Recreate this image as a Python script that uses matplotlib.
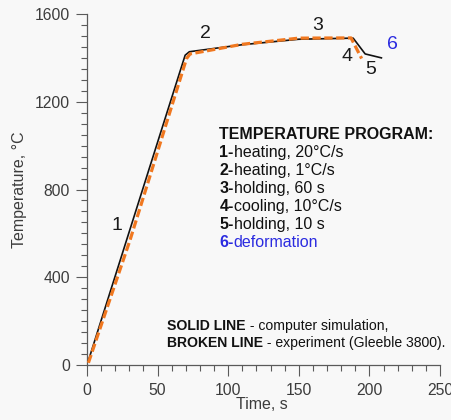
import matplotlib
matplotlib.use("Agg")
import matplotlib.pyplot as plt
from matplotlib.ticker import MultipleLocator

plt.rcParams['font.family'] = ['Liberation Sans', 'DejaVu Sans']

# Thermal cycle: computer simulation (solid) and Gleeble 3800 experiment (broken)
sim_time = [1, 69.5, 72.5, 110, 150, 188.5, 197, 208.5]
sim_temp = [20, 1412, 1428, 1460, 1485, 1490, 1418, 1400]

exp_time = [1, 30.5, 70.5, 73, 110, 150, 187, 194.5]
exp_temp = [10, 570, 1397, 1418, 1462, 1490, 1491, 1397]

# Stage numbers placed along the curve
stage_labels = ["1", "2", "3", "4", "5", "6"]
stage_x = [20.9, 83.6, 163.2, 183.8, 201.1, 216.0]
stage_y = [636, 1511, 1547, 1404, 1345, 1459]
stage_colors = ["#1a1a1a"] * 5 + ["#2b2be0"]

# Temperature program legend: (bold prefix, rest, colour)
program_prefix = ["1-", "2-", "3-", "4-", "5-", "6-"]
program_text = ["heating, 20°C/s", "heating, 1°C/s", "holding, 60 s",
                "cooling, 10°C/s", "holding, 10 s", "deformation"]
program_colors = ["#111111"] * 5 + ["#2b2be0"]

x_ticks = [0, 50, 100, 150, 200, 250]
y_ticks = [0, 400, 800, 1200, 1600]

fig = plt.figure(figsize=(4.51, 4.20), dpi=100, facecolor="#f8f8f8")
ax = fig.add_axes([87 / 451, 1 - 365 / 420, 353 / 451, 351 / 420])
ax.set_facecolor("none")

ax.plot(sim_time, sim_temp, color="#111111", lw=1.2, zorder=3)
ax.plot(exp_time, exp_temp, color="#f07820", lw=2.3, dashes=(2.6, 1.1),
        zorder=4)

ax.set_xlim(0, 250)
ax.set_ylim(0, 1600)
ax.set_xticks(x_ticks)
ax.set_yticks(y_ticks)
ax.xaxis.set_minor_locator(MultipleLocator(10))
ax.yaxis.set_minor_locator(MultipleLocator(50))

for side in ("top", "right"):
    ax.spines[side].set_visible(False)
for side in ("left", "bottom"):
    ax.spines[side].set_color("#5a5a5a")
    ax.spines[side].set_linewidth(0.9)

ax.tick_params(which="both", direction="out", color="#5a5a5a", width=0.8,
               labelcolor="#3c3c3c", labelsize=11.3)
ax.tick_params(which="major", length=8)
ax.tick_params(which="minor", length=4.5)
ax.tick_params(axis="y", which="major", pad=4.3)
ax.tick_params(axis="x", which="major", pad=5)

ax.set_xlabel("Time, s", fontsize=11.5, color="#3c3c3c")
ax.set_ylabel("Temperature, °C", fontsize=11.5, color="#3c3c3c")
ax.xaxis.set_label_coords(0.496, -0.091)
ax.yaxis.set_label_coords(-0.171, 0.5)

for lab, x, y, c in zip(stage_labels, stage_x, stage_y, stage_colors):
    ax.text(x, y, lab, fontsize=14, color=c, ha="center", va="center",
            zorder=5)

# Program block
block_x = 93.8
ax.text(block_x, 1030, "TEMPERATURE PROGRAM:", fontsize=11.5,
        fontweight="bold", color="#111111", va="baseline", ha="left")
for i, (pre, txt, c) in enumerate(zip(program_prefix, program_text,
                                      program_colors)):
    y = 948 - 82 * i
    head = ax.text(block_x, y, pre, fontsize=11.5, fontweight="bold",
                   color=c, va="baseline", ha="left")
    ax.annotate(txt, xy=(1, 0), xycoords=head, fontsize=11.5, color=c,
                va="bottom", ha="left")

# Line style note
note_x = 56.7
for y, bold, rest in [(160, "SOLID LINE", " - computer simulation,"),
                      (83, "BROKEN LINE", " - experiment (Gleeble 3800).")]:
    head = ax.text(note_x, y, bold, fontsize=10.1, fontweight="bold",
                   color="#111111", va="baseline", ha="left")
    ax.annotate(rest, xy=(1, 0), xycoords=head, fontsize=10.1,
                color="#111111", va="bottom", ha="left")

fig.savefig("out.png", dpi=100, facecolor=fig.get_facecolor())
